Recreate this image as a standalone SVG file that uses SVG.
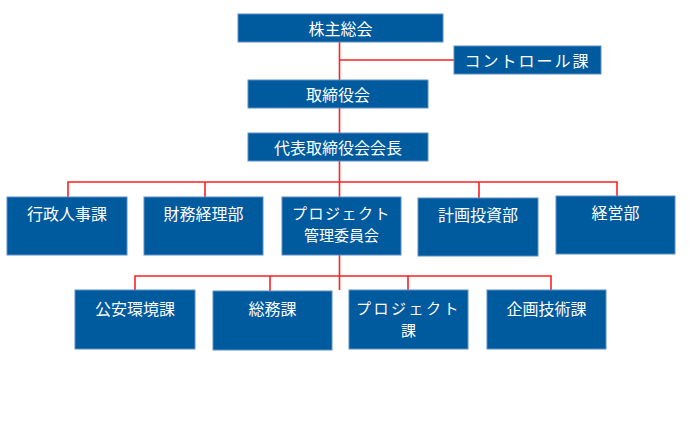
<svg xmlns="http://www.w3.org/2000/svg" width="690" height="441" viewBox="0 0 690 441">
<style>
.box{fill:#005A9E;stroke:#5B8EC7;stroke-width:1}
.t{fill:#FFFFFF;font-family:"Noto Sans CJK JP","Noto Sans CJK SC",sans-serif;font-size:16px;text-anchor:middle;dominant-baseline:central}
.t2{font-size:15px}
.ln{stroke:#FF2020;stroke-width:1.6;fill:none}
</style>
<rect width="690" height="441" fill="#FFFFFF"/>
<g id="connectors">
<path class="ln" d="M339.5,42V80M339.5,60H454M339.5,108V133M339.5,161V197M68,197V182H617V196M205,182V197M479,182V198M339.5,255V290M135,290V276H551V290M270,276V291M408,276V290"/>
</g>
<g id="n-kabunushi"><rect class="box" x="238" y="14" width="205" height="28"/><text class="t" x="340.5" y="28">株主総会</text></g>
<g id="n-control"><rect class="box" x="454" y="46" width="147" height="28"/><text class="t" x="527.5" y="60" letter-spacing="2">コントロール課</text></g>
<g id="n-torishimariyakukai"><rect class="box" x="248" y="80" width="180" height="28"/><text class="t" x="338" y="94">取締役会</text></g>
<g id="n-kaicho"><rect class="box" x="248" y="133" width="180" height="28"/><text class="t" x="338" y="147">代表取締役会会長</text></g>
<g id="n-gyosei"><rect class="box" x="7" y="197" width="120" height="58"/><text class="t" x="67" y="213">行政人事課</text></g>
<g id="n-zaimu"><rect class="box" x="144" y="197" width="119" height="58"/><text class="t" x="203.5" y="213">財務経理部</text></g>
<g id="n-pjkanri"><rect class="box" x="282" y="197" width="119" height="58"/><text class="t t2" x="341.5" y="212" letter-spacing="1.5">プロジェクト</text><text class="t t2" x="341.5" y="234">管理委員会</text></g>
<g id="n-keikaku"><rect class="box" x="418" y="198" width="120" height="58"/><text class="t" x="478" y="214">計画投資部</text></g>
<g id="n-keiei"><rect class="box" x="556" y="196" width="119" height="58"/><text class="t" x="615.5" y="212">経営部</text></g>
<g id="n-koan"><rect class="box" x="75" y="290" width="120" height="59"/><text class="t" x="135" y="308">公安環境課</text></g>
<g id="n-somu"><rect class="box" x="213" y="291" width="119" height="59"/><text class="t" x="272.5" y="308">総務課</text></g>
<g id="n-pjka"><rect class="box" x="349" y="290" width="119" height="59"/><text class="t t2" x="408.5" y="307" letter-spacing="2.5">プロジェクト</text><text class="t t2" x="408.5" y="329">課</text></g>
<g id="n-kikaku"><rect class="box" x="487" y="290" width="119" height="59"/><text class="t" x="546.5" y="308">企画技術課</text></g>
</svg>
